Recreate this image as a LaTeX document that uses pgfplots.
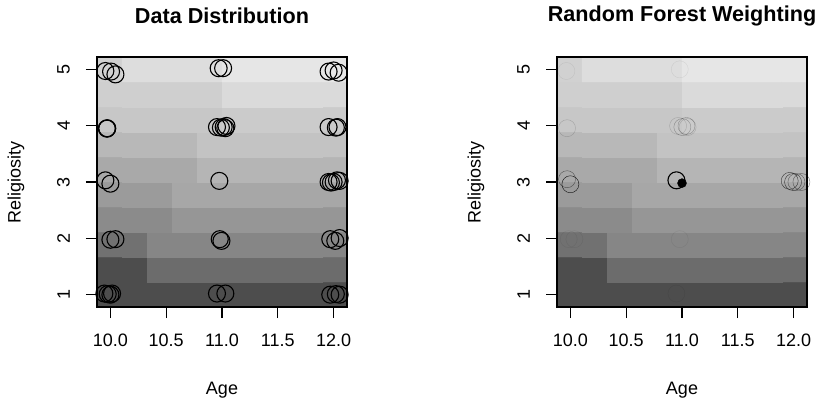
\documentclass[border=0pt]{standalone}
\usepackage{fontspec}
\setmainfont{Liberation Sans}
\usepackage{pgfplots}
\pgfplotsset{compat=1.18}

% 10 x 10 grid of forest predictions (gray level 0 = black, 1 = white)
\pgfplotstableread[row sep=\\]{
x y c \\
9.992 0.993 0.30 \\ 10.216 0.993 0.30 \\ 10.440 0.993 0.30 \\ 10.664 0.993 0.30 \\ 10.888 0.993 0.30 \\ 11.112 0.993 0.30 \\ 11.336 0.993 0.30 \\ 11.560 0.993 0.30 \\ 11.784 0.993 0.30 \\ 12.008 0.993 0.30 \\
9.992 1.439 0.30 \\ 10.216 1.439 0.30 \\ 10.440 1.439 0.42 \\ 10.664 1.439 0.42 \\ 10.888 1.439 0.42 \\ 11.112 1.439 0.42 \\ 11.336 1.439 0.42 \\ 11.560 1.439 0.42 \\ 11.784 1.439 0.42 \\ 12.008 1.439 0.42 \\
9.992 1.885 0.44 \\ 10.216 1.885 0.44 \\ 10.440 1.885 0.52 \\ 10.664 1.885 0.52 \\ 10.888 1.885 0.52 \\ 11.112 1.885 0.52 \\ 11.336 1.885 0.52 \\ 11.560 1.885 0.52 \\ 11.784 1.885 0.52 \\ 12.008 1.885 0.52 \\
9.992 2.331 0.54 \\ 10.216 2.331 0.54 \\ 10.440 2.331 0.54 \\ 10.664 2.331 0.585 \\ 10.888 2.331 0.585 \\ 11.112 2.331 0.585 \\ 11.336 2.331 0.585 \\ 11.560 2.331 0.585 \\ 11.784 2.331 0.585 \\ 12.008 2.331 0.585 \\
9.992 2.777 0.605 \\ 10.216 2.777 0.605 \\ 10.440 2.777 0.605 \\ 10.664 2.777 0.65 \\ 10.888 2.777 0.65 \\ 11.112 2.777 0.65 \\ 11.336 2.777 0.65 \\ 11.560 2.777 0.65 \\ 11.784 2.777 0.65 \\ 12.008 2.777 0.65 \\
9.992 3.223 0.66 \\ 10.216 3.223 0.66 \\ 10.440 3.223 0.66 \\ 10.664 3.223 0.66 \\ 10.888 3.223 0.705 \\ 11.112 3.223 0.705 \\ 11.336 3.223 0.705 \\ 11.560 3.223 0.705 \\ 11.784 3.223 0.705 \\ 12.008 3.223 0.705 \\
9.992 3.669 0.715 \\ 10.216 3.669 0.715 \\ 10.440 3.669 0.715 \\ 10.664 3.669 0.715 \\ 10.888 3.669 0.76 \\ 11.112 3.669 0.76 \\ 11.336 3.669 0.76 \\ 11.560 3.669 0.76 \\ 11.784 3.669 0.76 \\ 12.008 3.669 0.76 \\
9.992 4.115 0.775 \\ 10.216 4.115 0.775 \\ 10.440 4.115 0.775 \\ 10.664 4.115 0.775 \\ 10.888 4.115 0.775 \\ 11.112 4.115 0.79 \\ 11.336 4.115 0.79 \\ 11.560 4.115 0.79 \\ 11.784 4.115 0.79 \\ 12.008 4.115 0.79 \\
9.992 4.561 0.805 \\ 10.216 4.561 0.805 \\ 10.440 4.561 0.805 \\ 10.664 4.561 0.805 \\ 10.888 4.561 0.805 \\ 11.112 4.561 0.85 \\ 11.336 4.561 0.85 \\ 11.560 4.561 0.85 \\ 11.784 4.561 0.85 \\ 12.008 4.561 0.85 \\
9.992 5.007 0.815 \\ 10.216 5.007 0.86 \\ 10.440 5.007 0.86 \\ 10.664 5.007 0.86 \\ 10.888 5.007 0.86 \\ 11.112 5.007 0.895 \\ 11.336 5.007 0.895 \\ 11.560 5.007 0.895 \\ 11.784 5.007 0.895 \\ 12.008 5.007 0.895 \\
}\grid

\pgfplotstableread{
x y
9.955 4.98
10.006 4.97
10.045 4.92
9.968 3.956
9.970 3.952
9.972 3.958
9.955 3.03
10.0 2.97
10.0 1.97
10.045 1.98
9.946 1.01
9.976 1.0
10.0 0.99
10.015 1.01
10.97 5.03
11.01 5.03
10.955 3.98
10.99 3.97
11.015 3.98
11.03 3.96
11.04 4.0
10.976 3.02
10.98 1.98
10.995 1.95
10.955 1.01
11.03 1.01
11.955 4.97
12.0 4.99
12.045 4.95
11.955 3.98
12.02 3.97
12.035 3.98
11.955 3.0
11.976 2.99
12.0 3.0
12.03 3.03
12.054 3.02
11.97 1.98
12.015 1.95
12.054 2.0
11.97 0.99
12.02 1.0
12.054 0.99
}\pts

\pgfplotsset{
  rpanel/.style={
    scale only axis, width=250bp, height=250bp,
    xmin=9.88, xmax=12.12, ymin=0.77, ymax=5.23,
    axis on top,
    colormap/blackwhite, point meta min=0, point meta max=1,
    tick align=outside, major tick length=11bp,
    xtick pos=bottom, ytick pos=left,
    xtick={10,10.5,11,11.5,12}, ytick={1,2,3,4,5},
    every tick/.style={black, line width=1.1bp},
    axis line style={line width=1.1bp},
    /pgf/number format/assume math mode=true,
    font=\fontsize{18bp}{22bp}\selectfont,
    xticklabel style={/pgf/number format/fixed, /pgf/number format/fixed zerofill,
      /pgf/number format/precision=1},
    xticklabel style={anchor=north, inner sep=0pt, yshift=-16bp},
    yticklabel style={rotate=90, anchor=south, inner sep=0pt, yshift=16bp},
    xlabel={Age}, ylabel={Religiosity},
    xlabel style={at={(axis description cs:0.5,-0.332)}, anchor=center},
    ylabel style={at={(axis description cs:-0.324,0.5)}, anchor=center},
    title style={at={(axis description cs:0.5,1.14)}, anchor=center,
      font=\bfseries\fontsize{21.6bp}{26bp}\selectfont},
    ring/.style={only marks, mark=o, mark size=8.5bp,
      mark options={line width=1.1bp}},
  }
}

\begin{document}
\begin{tikzpicture}
\useasboundingbox (0,0) rectangle (822bp,-402bp);

\begin{axis}[rpanel, at={(97bp,-57bp)}, anchor=north west, title={Data Distribution}]
\addplot[matrix plot*, mesh/cols=10, point meta=explicit] table[meta=c] {\grid};
\addplot[ring, black] table {\pts};
\end{axis}

\begin{axis}[rpanel, at={(557bp,-57bp)}, anchor=north west, title={Random Forest Weighting}]
\addplot[matrix plot*, mesh/cols=10, point meta=explicit] table[meta=c] {\grid};
\addplot[ring, black, mark options={draw opacity=0.08}] coordinates {
(9.964,4.98) (10.98,5.01) (9.985,1.98) (10.036,1.98) (10.98,1.98) (10.95,1.01)};
\addplot[ring, black, mark options={draw opacity=0.18}] coordinates {
(9.97,3.96) (10.965,4.0) (11.05,3.98)};
\addplot[ring, black, mark options={draw opacity=0.3}] coordinates {
(11.003,3.98) (11.04,4.0)};
\addplot[ring, black, mark options={draw opacity=0.5}] coordinates {
(9.97,3.05) (12.025,3.0) (12.07,3.0)};
\addplot[ring, black, mark options={draw opacity=0.7}] coordinates {
(11.965,3.02) (11.995,3.0)};
\addplot[ring, black, mark options={draw opacity=0.9}] coordinates {
(10.0,2.96)};
\addplot[ring, black] coordinates {(10.95,3.03)};
\addplot[only marks, mark=*, mark size=4.5bp, black] coordinates {(11.0,2.98)};
\end{axis}
\end{tikzpicture}
\end{document}
